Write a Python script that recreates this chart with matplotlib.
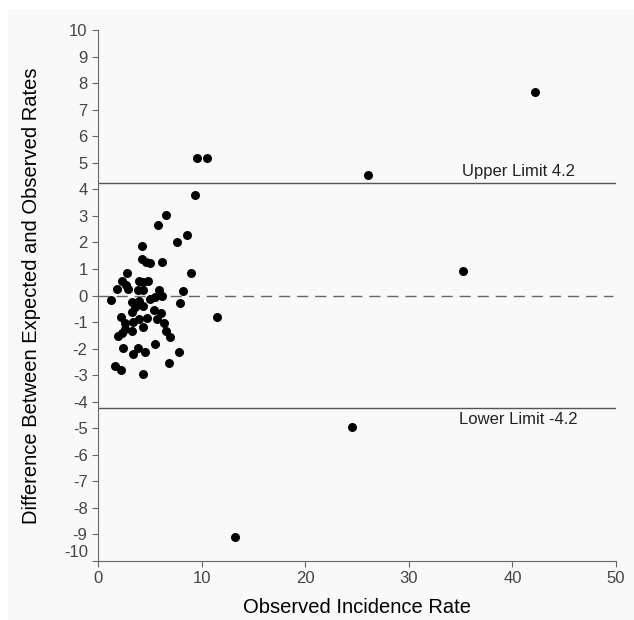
import matplotlib
matplotlib.use('Agg')
import matplotlib.pyplot as plt
from matplotlib.patches import Rectangle

plt.rcParams['font.family'] = ['Liberation Sans', 'DejaVu Sans']

# observed incidence rate vs difference between expected and observed
obs = [6.56, 5.75, 8.59, 7.62, 4.23, 4.23, 4.62, 5.0, 6.17, 8.98,
       2.84, 2.36, 2.68, 1.81, 2.94, 3.91, 4.33, 4.82, 3.85, 4.39,
       5.84, 6.17, 8.17, 5.52, 5.04, 1.26, 7.95, 3.26, 3.91, 3.59,
       4.39, 5.36, 6.1, 3.33, 2.23, 11.5, 3.91, 4.71, 5.69, 2.62,
       3.42, 4.39, 6.33, 2.62, 3.26, 6.56, 1.97, 2.29, 6.98, 5.52,
       2.45, 3.85, 4.49, 3.36, 7.85, 6.88, 1.65, 2.23, 4.3,
       9.58, 10.55, 9.36, 42.15, 26.1, 35.2, 24.5, 13.2]
diff = [3.02, 2.67, 2.27, 2.01, 1.86, 1.36, 1.25, 1.22, 1.25, 0.84,
        0.84, 0.53, 0.38, 0.25, 0.25, 0.53, 0.50, 0.54, 0.21, 0.19,
        0.21, 0.0, 0.16, -0.06, -0.15, -0.16, -0.30, -0.25, -0.19, -0.44,
        -0.41, -0.56, -0.67, -0.63, -0.82, -0.82, -0.88, -0.84, -0.88, -1.04,
        -1.0, -1.17, -1.04, -1.26, -1.32, -1.32, -1.51, -1.42, -1.57, -1.82,
        -1.98, -1.98, -2.11, -2.22, -2.11, -2.54, -2.64, -2.80, -2.95,
        5.19, 5.19, 3.79, 7.68, 4.55, 0.92, -4.95, -9.11]
upper = 4.2
lower = -4.2
upper_line = 4.23
lower_line = -4.23

fig = plt.figure(figsize=(6.34, 6.2), dpi=100, facecolor='white')
fig.patches.append(Rectangle((8/634, 0), 1 - 8/634, 1 - 9/620, transform=fig.transFigure,
                             facecolor='#f9f9f9', edgecolor='none', zorder=-10))
ax = fig.add_axes([98/634, 1 - 561/620, 518/634, 531/620])
ax.set_facecolor('none')

ax.axhline(upper_line, color='#555555', lw=1)
ax.axhline(lower_line, color='#555555', lw=1)
ax.axhline(0, color='#666666', lw=1, dashes=(8, 5), xmax=0.995)
ax.scatter(obs, diff, s=42, color='black', zorder=3, linewidths=0)

ax.text(40.6, upper_line + 0.15, 'Upper Limit %.1f' % upper, ha='center', va='bottom',
        fontsize=12, color='#222222')
ax.text(40.6, lower_line - 0.15, 'Lower Limit %.1f' % lower, ha='center', va='top',
        fontsize=12, color='#222222')

ax.set_xlim(0, 50)
ax.set_ylim(-10, 10)
ax.set_xticks(range(0, 51, 10))
ax.set_yticks(range(-10, 11))
ax.set_yticklabels(['' if v == -10 else str(v) for v in range(-10, 11)])
ax.annotate('-10', xy=(0, -10), xycoords=('axes fraction', 'data'), xytext=(-7, 6),
            textcoords='offset points', ha='right', va='center', fontsize=12, color='#444444')

for s in ['top', 'right']:
    ax.spines[s].set_visible(False)
for s in ['left', 'bottom']:
    ax.spines[s].set_color('#666666')
ax.tick_params(direction='out', length=4, color='#666666', labelcolor='#444444', labelsize=12)

ax.set_xlabel('Observed Incidence Rate', fontsize=14.5, labelpad=8)
ax.set_ylabel('Difference Between Expected and Observed Rates', fontsize=14.5, labelpad=20)

fig.savefig('out.png', dpi=100, facecolor=fig.get_facecolor())
